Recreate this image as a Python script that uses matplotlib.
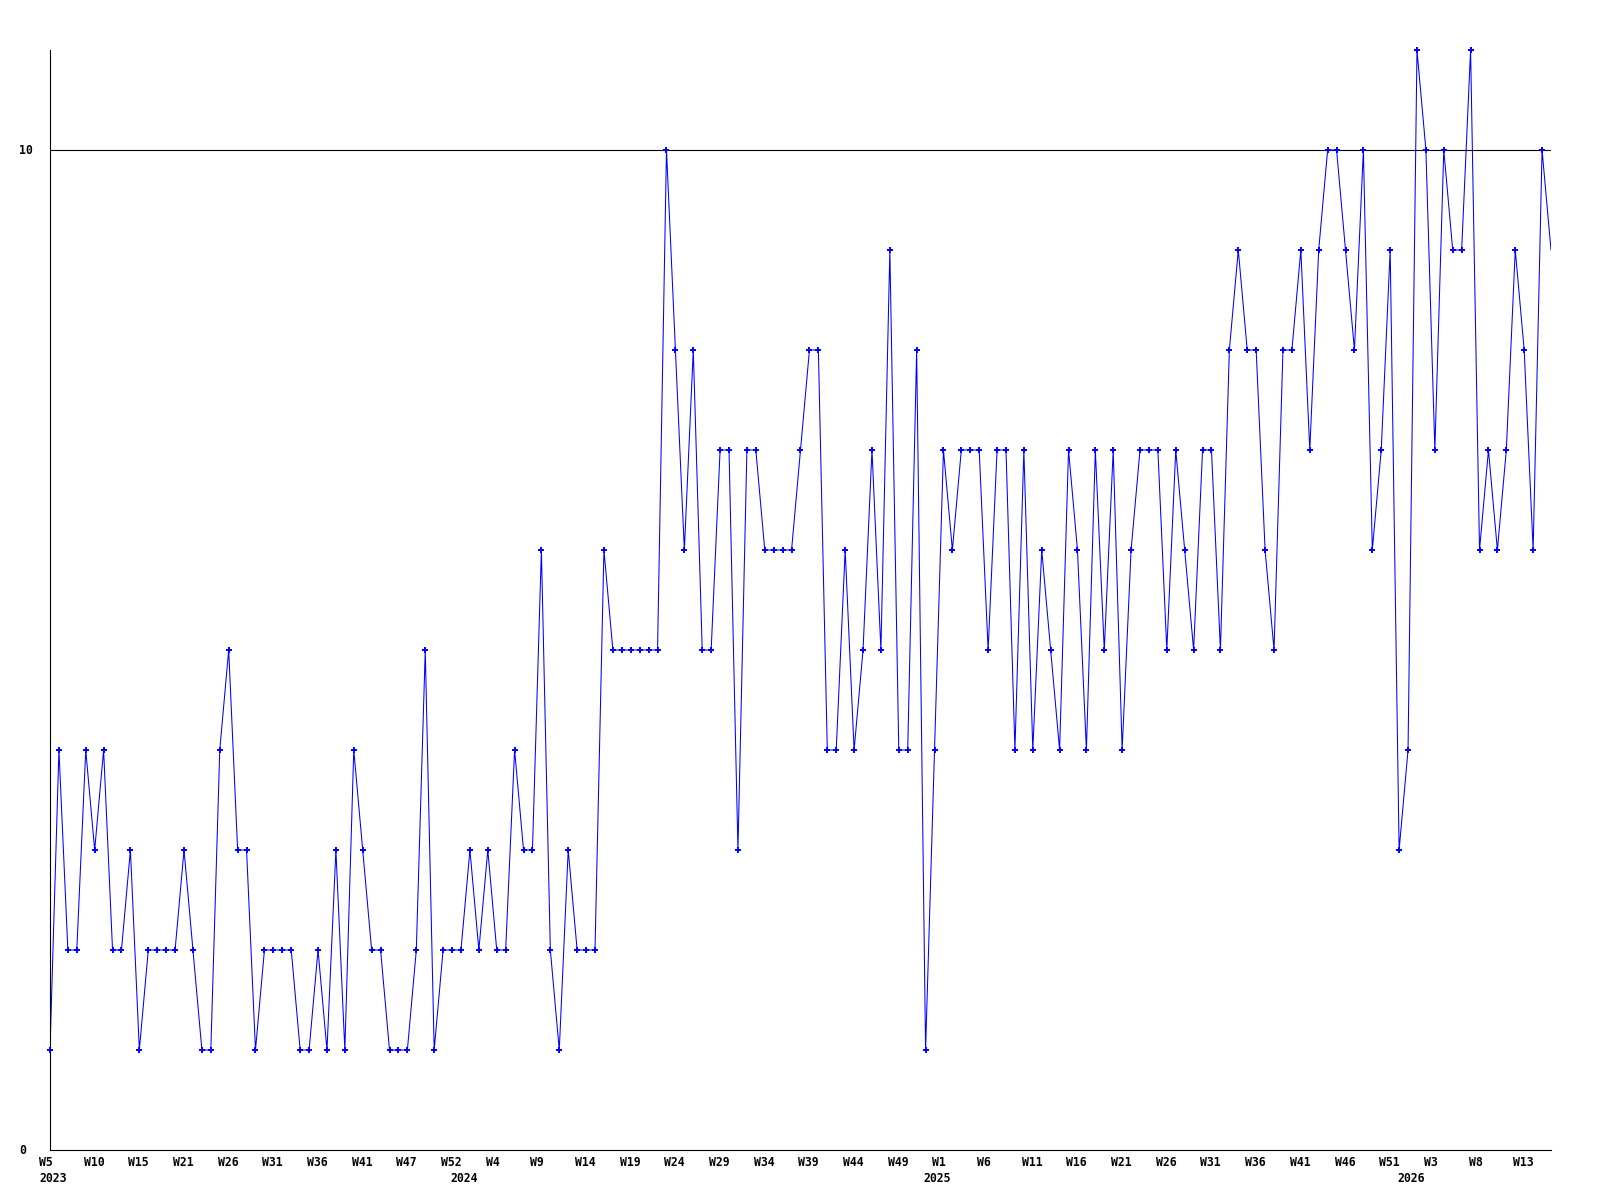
import matplotlib
matplotlib.use("Agg")
import matplotlib.pyplot as plt
import matplotlib.transforms as mtransforms
import numpy as np

# weekly values, 2023 W5 onwards
values = [
    1, 4, 2, 2, 4, 3, 4, 2, 2, 3,
    1, 2, 2, 2, 2, 3, 2, 1, 1, 4,
    5, 3, 3, 1, 2, 2, 2, 2, 1, 1,
    2, 1, 3, 1, 4, 3, 2, 2, 1, 1,
    1, 2, 5, 1, 2, 2, 2, 3, 2, 3,
    2, 2, 4, 3, 3, 6, 2, 1, 3, 2,
    2, 2, 6, 5, 5, 5, 5, 5, 5, 10,
    8, 6, 8, 5, 5, 7, 7, 3, 7, 7,
    6, 6, 6, 6, 7, 8, 8, 4, 4, 6,
    4, 5, 7, 5, 9, 4, 4, 8, 1, 4,
    7, 6, 7, 7, 7, 5, 7, 7, 4, 7,
    4, 6, 5, 4, 7, 6, 4, 7, 5, 7,
    4, 6, 7, 7, 7, 5, 7, 6, 5, 7,
    7, 5, 8, 9, 8, 8, 6, 5, 8, 8,
    9, 7, 9, 10, 10, 9, 8, 10, 6, 7,
    9, 3, 4, 11, 10, 7, 10, 9, 9, 11,
    6, 7, 6, 7, 9, 8, 6, 10, 9,
]

# one label every 5 points
week_labels = [
    "W5", "W10", "W15", "W21", "W26", "W31", "W36", "W41", "W47", "W52",
    "W4", "W9", "W14", "W19", "W24", "W29", "W34", "W39", "W44", "W49",
    "W1", "W6", "W11", "W16", "W21", "W26", "W31", "W36", "W41", "W46",
    "W51", "W3", "W8", "W13",
]
year_points = [0, 46, 99, 152]
year_labels = ["2023", "2024", "2025", "2026"]

y_ticks = [0, 10]

font = dict(family="DejaVu Sans Mono", fontweight="bold", fontsize=8.3)

fig = plt.figure(figsize=(16, 12), dpi=100)
ax = fig.add_axes([50 / 1600, 50 / 1200, 1501 / 1600, 1100 / 1200])

x = np.arange(len(values))
ax.plot(x, values, color="#0000ff", lw=0.75)
# last (current) week is drawn without a marker
ax.plot(x[:-1], values[:-1], ls="none", marker="+", ms=4.5, mew=1.4,
        color="#0000ff", clip_on=False, zorder=3)

ax.axhline(10, color="black", lw=0.8, zorder=0)

ax.set_xlim(0, len(values) - 1)
ax.set_ylim(0, 11)
ax.set_xticks([])
ax.set_yticks([])
for s in ["top", "right"]:
    ax.spines[s].set_visible(False)
for s in ["left", "bottom"]:
    ax.spines[s].set_linewidth(0.8)

# week labels under the axis, left aligned a bit before the point
lab_tr = mtransforms.offset_copy(ax.get_xaxis_transform(), fig=fig, x=-11, y=-13, units="dots")
for i, lab in enumerate(week_labels):
    ax.text(i * 5, 0, lab, transform=lab_tr, ha="left", va="center", **font)

year_tr = mtransforms.offset_copy(ax.get_xaxis_transform(), fig=fig, x=-11, y=-29, units="dots")
for p, lab in zip(year_points, year_labels):
    ax.text(p, 0, lab, transform=year_tr, ha="left", va="center", **font)

ytr = mtransforms.blended_transform_factory(fig.transFigure, ax.transData)
for v in y_ticks:
    fig.text(19.5 / 1600, v, str(v), transform=ytr, ha="left", va="center", **font)

fig.savefig("out.png", dpi=100, facecolor="white")
